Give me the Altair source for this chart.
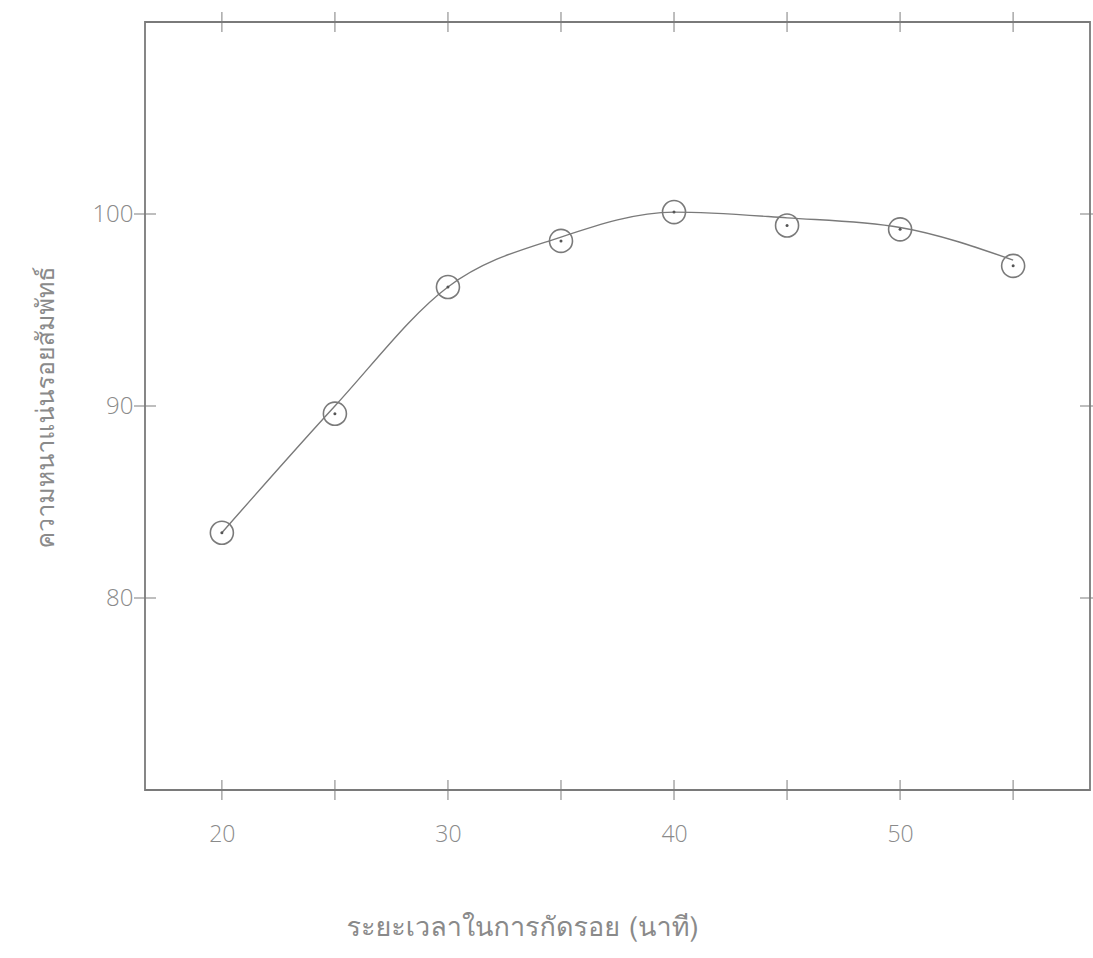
import altair as alt
import pandas as pd

# data
minutes = [20, 25, 30, 35, 40, 45, 50, 55]
density = [83.4, 89.6, 96.2, 98.6, 100.1, 99.4, 99.2, 97.3]
curve = [83.4, 90.0, 96.2, 98.8, 100.1, 99.8, 99.3, 97.6]
x_ticks = [20, 25, 30, 35, 40, 45, 50, 55]
x_labels = [20, 30, 40, 50]
y_ticks = [80, 90, 100]

X_TITLE = "ระยะเวลาในการกัดรอย (นาที)"
Y_TITLE = "ความหนาแน่นรอยสัมพัทธ์"

W, H = 945, 768
INK = "#7a7a7a"
TXT = "#8a8a8a"
FONT = "Open Sans"
THAI = "Loma, Garuda, Norasi, Kinnari, 'Noto Sans Thai', 'Noto Serif Thai', 'DejaVu Sans', sans-serif"

pts = pd.DataFrame({"x": minutes, "y": density})
cur = pd.DataFrame({"x": minutes, "y": curve})
xt = pd.DataFrame({"x": x_ticks})
yt = pd.DataFrame({"y": y_ticks})

xs = alt.Scale(domain=[16.6, 58.4], nice=False, zero=False)
ys = alt.Scale(domain=[70, 110], nice=False, zero=False)

x_axis = alt.Axis(values=x_labels, domain=False, ticks=False, grid=False,
                  labelFont=FONT, labelFontSize=23, labelFontWeight=300, labelColor=TXT,
                  labelPadding=33, title=X_TITLE, titleFont=THAI, titleFontSize=27,
                  titleFontWeight="normal", titleColor=TXT, titleX=377, titleY=145,
                  titleBaseline="alphabetic", titleAnchor="middle", titleAlign="center")
y_axis = alt.Axis(values=y_ticks, domain=False, ticks=False, grid=False,
                  labelFont=FONT, labelFontSize=24, labelFontWeight=300, labelColor=TXT,
                  labelPadding=12, title=Y_TITLE, titleFont=THAI, titleFontSize=25,
                  titleFontWeight="normal", titleColor=TXT, titleX=-100, titleY=385,
                  titleAngle=270, titleBaseline="middle", titleAlign="center")

line = alt.Chart(cur).mark_line(color=INK, strokeWidth=1.4, interpolate="monotone").encode(
    x=alt.X("x:Q", scale=xs, axis=x_axis),
    y=alt.Y("y:Q", scale=ys, axis=y_axis),
)
rings = alt.Chart(pts).mark_point(shape="circle", filled=False, color=INK, strokeWidth=1.6,
                                  size=530, opacity=1).encode(
    x=alt.X("x:Q", scale=xs), y=alt.Y("y:Q", scale=ys))
dots = alt.Chart(pts).mark_point(shape="circle", filled=True, color="#555555",
                                 size=9, opacity=1).encode(
    x=alt.X("x:Q", scale=xs), y=alt.Y("y:Q", scale=ys))

bottom_ticks = alt.Chart(xt).mark_tick(orient="vertical", size=20, thickness=1.4, color=INK).encode(
    x=alt.X("x:Q", scale=xs), y=alt.value(H))
top_ticks = alt.Chart(xt).mark_tick(orient="vertical", size=20, thickness=1.4, color=INK).encode(
    x=alt.X("x:Q", scale=xs), y=alt.value(0))
left_ticks = alt.Chart(yt).mark_tick(orient="horizontal", size=22, thickness=1.4, color=INK).encode(
    y=alt.Y("y:Q", scale=ys), x=alt.value(0))
right_ticks = alt.Chart(yt).mark_tick(orient="horizontal", size=20, thickness=1.4, color=INK).encode(
    y=alt.Y("y:Q", scale=ys), x=alt.value(W))

chart = alt.layer(line, rings, dots, bottom_ticks, top_ticks, left_ticks, right_ticks).properties(
    width=W, height=H,
    autosize=alt.AutoSizeParams(type="none"),
    padding={"left": 145, "top": 22, "right": 3, "bottom": 168},
    background="white",
).configure_view(stroke=INK, strokeWidth=1.8)

chart.save("out.html", embed_options={"renderer": "svg", "actions": False})
